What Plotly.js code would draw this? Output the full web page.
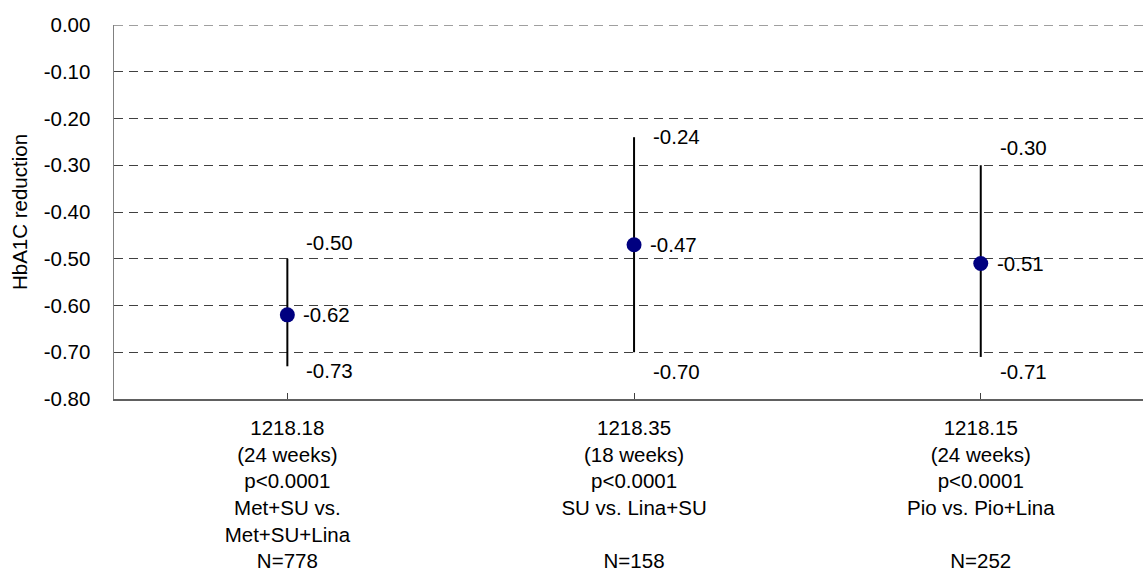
<!DOCTYPE html>
<html>
<head>
<meta charset="utf-8">
<script src="https://cdn.plot.ly/plotly-3.0.1.min.js"></script>
<style>html,body{margin:0;padding:0;background:#fff;}#chart{width:1143px;height:572px;}</style>
</head>
<body>
<div id="chart"></div>
<script>
// ---- data ----
var categories = [
  "1218.18<br>(24 weeks)<br>p<0.0001<br>Met+SU vs.<br>Met+SU+Lina<br>N=778",
  "1218.35<br>(18 weeks)<br>p<0.0001<br>SU vs. Lina+SU<br> <br>N=158",
  "1218.15<br>(24 weeks)<br>p<0.0001<br>Pio vs. Pio+Lina<br> <br>N=252"
];
var meanValues = [-0.62, -0.47, -0.51];
var upperValues = [-0.50, -0.24, -0.30];
var lowerValues = [-0.73, -0.70, -0.71];
var yTickValues = [0, -0.1, -0.2, -0.3, -0.4, -0.5, -0.6, -0.7, -0.8];

// ---- label styling (pixel nudges) ----
var upperShiftY = [16, 1, 18];
var lowerShiftY = [-4, -19, -15];
var FONT = "Arial, 'Liberation Sans', sans-serif";
var FS = 20.5;

var xIdx = categories.map(function(c, i){ return i; });

var trace = {
  type: 'scatter',
  mode: 'markers',
  x: xIdx,
  y: meanValues,
  marker: {color: '#000080', size: 15},
  error_y: {
    type: 'data',
    symmetric: false,
    array: meanValues.map(function(m, i){ return upperValues[i] - m; }),
    arrayminus: meanValues.map(function(m, i){ return m - lowerValues[i]; }),
    color: '#000000',
    thickness: 2,
    width: 0
  },
  hoverinfo: 'skip',
  showlegend: false
};

var annotations = [];
function fmt(v){ return v.toFixed(2); }
xIdx.forEach(function(i){
  annotations.push({x: i, y: meanValues[i], xref: 'x', yref: 'y', text: fmt(meanValues[i]),
    showarrow: false, xanchor: 'left', yanchor: 'middle', xshift: 14, yshift: 0,
    font: {family: FONT, size: FS, color: '#000'}});
  annotations.push({x: i, y: upperValues[i], xref: 'x', yref: 'y', text: fmt(upperValues[i]),
    showarrow: false, xanchor: 'left', yanchor: 'middle', xshift: 17, yshift: upperShiftY[i],
    font: {family: FONT, size: FS, color: '#000'}});
  annotations.push({x: i, y: lowerValues[i], xref: 'x', yref: 'y', text: fmt(lowerValues[i]),
    showarrow: false, xanchor: 'left', yanchor: 'middle', xshift: 17, yshift: lowerShiftY[i],
    font: {family: FONT, size: FS, color: '#000'}});
});

var layout = {
  width: 1143, height: 572,
  margin: {l: 114, r: 0, t: 25, b: 173, pad: 0},
  paper_bgcolor: '#ffffff', plot_bgcolor: '#ffffff',
  font: {family: FONT, size: FS, color: '#000'},
  xaxis: {
    range: [-0.5, 2.468],
    tickmode: 'array',
    tickvals: xIdx,
    ticktext: categories,
    showgrid: false,
    zeroline: false,
    showline: true, linecolor: '#606060', linewidth: 1.5,
    ticks: 'inside', ticklen: 6, tickcolor: '#404040', tickwidth: 1,
    tickson: 'boundaries',
    ticklabelstandoff: 10,
    tickfont: {family: FONT, size: FS, color: '#000'}
  },
  yaxis: {
    range: [-0.8, 0],
    tickmode: 'array',
    tickvals: yTickValues,
    ticktext: yTickValues.map(function(v){ return v.toFixed(2); }),
    showgrid: true, gridcolor: '#404040', gridwidth: 1, griddash: '9px,6px',
    zeroline: false,
    showline: true, linecolor: '#808080', linewidth: 1.5,
    ticks: 'inside', ticklen: 5, tickcolor: '#404040',
    ticklabelstandoff: 18,
    tickfont: {family: FONT, size: FS, color: '#000'},
    title: {text: 'HbA1C reduction', font: {family: FONT, size: FS, color: '#000'}, standoff: 10}
  },
  shapes: [{
    type: 'line', xref: 'paper', yref: 'y', x0: 0, x1: 1,
    y0: yTickValues[0], y1: yTickValues[0],
    line: {color: '#404040', width: 1, dash: '9px,6px'}
  }],
  annotations: annotations
};

Plotly.newPlot('chart', [trace], layout, {displayModeBar: false, staticPlot: true});
</script>
</body>
</html>
